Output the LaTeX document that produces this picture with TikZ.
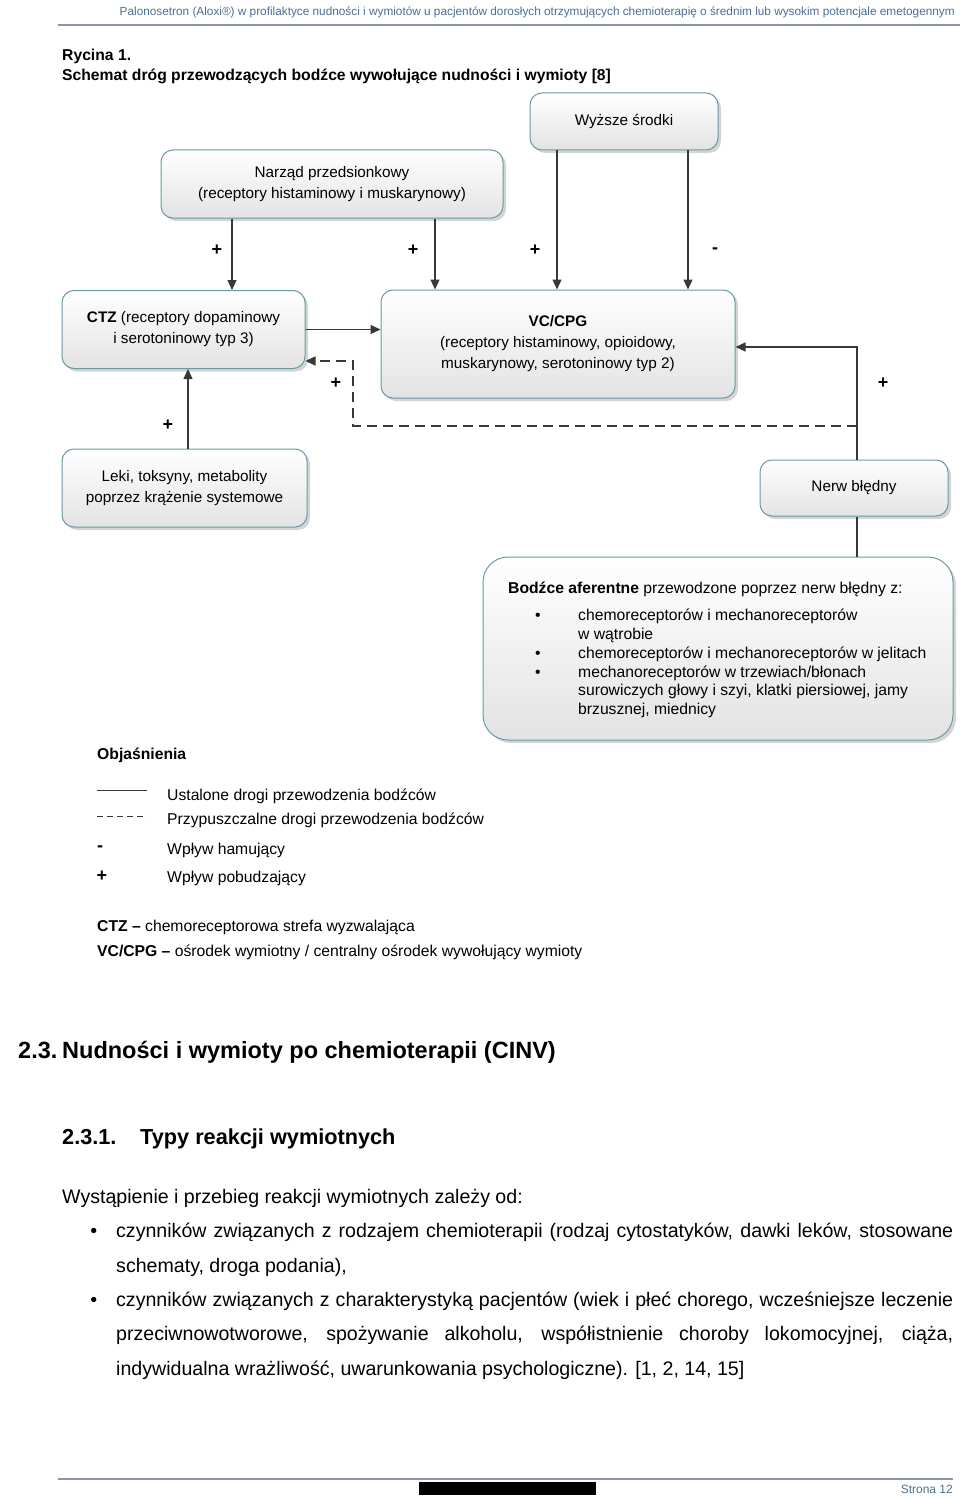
\documentclass[tikz,border=0pt]{standalone}
\usepackage{fontspec}
\setmainfont{Liberation Sans}
\usetikzlibrary{positioning,arrows.meta,shadows}

\definecolor{boxline}{HTML}{6A9AA8}
\definecolor{connline}{HTML}{383838}
\definecolor{headblue}{HTML}{4E6E92}
\definecolor{rulegrey}{HTML}{8A96A3}

\tikzset{
  box/.style={draw=boxline, line width=1pt, rounded corners=12pt,
    top color=white, bottom color=black!11,
    drop shadow={shadow xshift=3pt,shadow yshift=-3pt,fill=black!30,opacity=0.55},
    align=center, font=\fontsize{15.3}{21}\selectfont, inner sep=0pt},
  conn/.style={draw=connline, line width=1.2pt, -{Triangle[length=10pt,width=9pt]}},
  plain/.style={draw=connline, line width=1.2pt},
  guessed/.style={dash pattern=on 10pt off 6pt, line width=1.5pt},
  sign/.style={font=\fontsize{18}{18}\selectfont\bfseries, inner sep=0pt},
  txt/.style={anchor=base west, inner sep=0pt},
  legend/.style={txt, font=\fontsize{15.7}{18}\selectfont},
}

\begin{document}
\begin{tikzpicture}[x=1pt,y=-1pt]
  \useasboundingbox[fill=white] (0,0) rectangle (960,1498);

  % naglowek strony
  \node[anchor=base east, inner sep=0pt, text=headblue, font=\fontsize{11.8}{14}\selectfont] (naglowek) at (955,16)
    {Palonosetron (Aloxi®) w profilaktyce nudności i wymiotów u pacjentów dorosłych otrzymujących chemioterapię o średnim lub wysokim potencjale emetogennym};
  \draw[rulegrey, line width=2pt] (58,25) -- (960,25);

  % tytul ryciny
  \node[txt, font=\fontsize{15.7}{18}\selectfont\bfseries] (rycina) at (62,61) {Rycina 1.};
  \node[txt, font=\fontsize{15.7}{18}\selectfont\bfseries] (tytul) at (62,81)
    {Schemat dróg przewodzących bodźce wywołujące nudności i wymioty [8]};

  % bloki
  \node[box, minimum width=188pt, minimum height=57pt] (wyzsze) at (624,121.5) {Wyższe środki};
  \node[box, minimum width=342pt, minimum height=68pt] (narzad) at (332,184)
    {Narząd przedsionkowy\\(receptory histaminowy i muskarynowy)};
  \node[box, minimum width=243pt, minimum height=78pt] (ctz) at (183.5,329.5)
    {\textbf{CTZ} (receptory dopaminowy\\i serotoninowy typ 3)};
  \node[box, minimum width=354pt, minimum height=108pt] (vc) at (558,344)
    {\textbf{VC/CPG}\\(receptory histaminowy, opioidowy,\\muskarynowy, serotoninowy typ 2)};
  \node[box, minimum width=245pt, minimum height=78pt] (leki) at (184.5,488)
    {Leki, toksyny, metabolity\\poprzez krążenie systemowe};
  \node[box, minimum width=188pt, minimum height=56pt] (nerw) at (854,488) {Nerw błędny};
  \node[box, rounded corners=25pt, minimum width=470pt, minimum height=183pt] (bodzce) at (718,648.5) {};
  \node[anchor=north west, inner sep=0pt, align=left, font=\fontsize{15.7}{18.7}\selectfont] (bodzcetxt) at (508,580)
    {\strut\textbf{Bodźce aferentne} przewodzone poprzez nerw błędny z:\\[9pt]
     \hspace*{27pt}\makebox[43pt][l]{\textbullet}chemoreceptorów i mechanoreceptorów\\
     \hspace*{70pt}w wątrobie\\
     \hspace*{27pt}\makebox[43pt][l]{\textbullet}chemoreceptorów i mechanoreceptorów w jelitach\\
     \hspace*{27pt}\makebox[43pt][l]{\textbullet}mechanoreceptorów w trzewiach/błonach\\
     \hspace*{70pt}surowiczych głowy i szyi, klatki piersiowej, jamy\\
     \hspace*{70pt}brzusznej, miednicy};

  % polaczenia
  \coordinate (xa) at (232,0);
  \coordinate (xb) at (435,0);
  \coordinate (xc) at (557,0);
  \coordinate (xd) at (688,0);
  \coordinate (xe) at (188,0);
  \coordinate (vcin) at (857,347);
  \coordinate (dsh) at (857,426);
  \coordinate (dup) at (353,361);
  \draw[conn] (narzad.south -| xa) -- (ctz.north -| xa);
  \draw[conn] (narzad.south -| xb) -- (vc.north -| xb);
  \draw[conn] (wyzsze.south -| xc) -- (vc.north -| xc);
  \draw[conn] (wyzsze.south -| xd) -- (vc.north -| xd);
  \draw[conn] (leki.north -| xe) -- (ctz.south -| xe);
  \draw[conn] (ctz.east) -- (ctz.east -| vc.west);
  \draw[conn] (nerw.north -| vcin) -- (vcin) -- (vcin -| vc.east);
  \draw[conn, guessed] (dsh) -- (dsh -| dup) -- (dup) -- (dup -| ctz.east);
  \draw[plain] (bodzce.north -| vcin) -- (nerw.south -| vcin);

  % znaki wplywu
  \node[sign] (p1) at (217,250) {+};
  \node[sign] (p2) at (413,250) {+};
  \node[sign] (p3) at (535,250) {+};
  \node[sign] (m1) at (715,251) {-};
  \node[sign] (p4) at (336,383) {+};
  \node[sign] (p5) at (883,383) {+};
  \node[sign] (p6) at (168,425) {+};

  % objasnienia
  \node[legend, font=\fontsize{15.7}{18}\selectfont\bfseries] (objasn) at (97,759) {Objaśnienia};
  \draw[connline, line width=1pt] (97,790) -- (147,790);
  \node[legend] (ustalone) at (167,800) {Ustalone drogi przewodzenia bodźców};
  \draw[connline, line width=1pt, dash pattern=on 6pt off 4pt] (97,816) -- (147,816);
  \node[legend] (przyp) at (167,824) {Przypuszczalne drogi przewodzenia bodźców};
  \node[sign] (lm) at (100,849) {-};
  \node[legend] (hamujacy) at (167,854) {Wpływ hamujący};
  \node[sign] (lp) at (102,876) {+};
  \node[legend] (pobudz) at (167,882) {Wpływ pobudzający};
  \node[legend] (ctzopis) at (97,931) {\textbf{CTZ –} chemoreceptorowa strefa wyzwalająca};
  \node[legend] (vcopis) at (97,956) {\textbf{VC/CPG –} ośrodek wymiotny / centralny ośrodek wywołujący wymioty};

  % tekst pod rycina
  \node[txt, font=\fontsize{23.5}{26}\selectfont\bfseries] (nr23) at (18,1058) {2.3.};
  \node[txt, font=\fontsize{23.5}{26}\selectfont\bfseries] (rozdzial) at (62,1058) {Nudności i wymioty po chemioterapii (CINV)};
  \node[txt, font=\fontsize{21.7}{26}\selectfont\bfseries] (nr231) at (62,1144) {2.3.1.};
  \node[txt, font=\fontsize{21.7}{26}\selectfont\bfseries] (podrozdzial) at (140,1144) {Typy reakcji wymiotnych};
  \node[anchor=north west, inner sep=0pt, text width=891pt, align=justify, font=\fontsize{19.6}{34.4}\selectfont] (tekst) at (62,1179)
    {\parindent=0pt\noindent\strut Wystąpienie i przebieg reakcji wymiotnych zależy od:\par
     \leftskip=54pt\relax
     \noindent\llap{\textbullet\hspace{19pt}}czynników związanych z rodzajem chemioterapii (rodzaj cytostatyków, dawki leków, stosowane\linebreak
     schematy, droga podania),\par
     \noindent\llap{\textbullet\hspace{19pt}}czynników związanych z charakterystyką pacjentów (wiek i płeć chorego, wcześniejsze leczenie\linebreak
     przeciwnowotworowe, spożywanie alkoholu, współistnienie choroby lokomocyjnej, ciąża,\linebreak
     indywidualna wrażliwość, uwarunkowania psychologiczne). [1, 2, 14, 15]\par};

  % stopka
  \draw[rulegrey, line width=1.5pt] (58,1479) -- (953,1479);
  \fill[black] (419,1482) rectangle (596,1495);
  \node[anchor=base east, inner sep=0pt, text=headblue, font=\fontsize{12}{14}\selectfont] (strona) at (953,1493) {Strona 12};
\end{tikzpicture}
\end{document}
